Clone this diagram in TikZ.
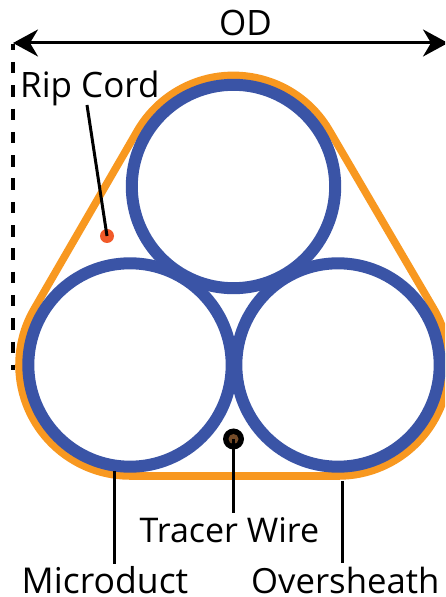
\documentclass[tikz,border=0pt]{standalone}
\usepackage{fontspec}
\setmainfont{Open Sans}
\usetikzlibrary{arrows.meta}
\definecolor{ductblue}{RGB}{58,84,166}
\definecolor{sheathorange}{RGB}{248,152,32}
\definecolor{ripred}{RGB}{241,90,41}
\definecolor{wirebrown}{RGB}{117,76,41}
\tikzset{
  duct/.style={circle,draw=ductblue,line width=12pt,minimum size=203.4pt,inner sep=0pt},
  sheath/.style={draw=sheathorange,line width=7.6pt,line join=round},
  leader/.style={draw=black,line width=3pt},
  lbl/.style={inner sep=0pt,text=black,font=\fontsize{#1}{#1}\selectfont},
  dim/.style={draw=black,line width=3pt,{Stealth[length=25pt,width=27pt,inset=8pt]}-{Stealth[length=25pt,width=27pt,inset=8pt]}},
  guide/.style={draw=black,line width=3.3pt,dash pattern=on 11.5pt off 11.8pt,dash phase=5.3pt}
}
\begin{document}
\begin{tikzpicture}[x=1pt,y=1pt]
\clip (0,0) rectangle (445,597);
\fill[white] (0,0) rectangle (445,597);
% oversheath
\path[sheath] (130,121) -- (338,121)
  arc[start angle=-90,end angle=30.3,radius=111]
  -- (329.3,466.6)
  arc[start angle=30.3,end angle=149.9,radius=111]
  -- (34,287.7)
  arc[start angle=149.9,end angle=270,radius=111] -- cycle;
% microducts
\node[duct] (top) at (233.5,410.5) {};
\node[duct] (left) at (130,232) {};
\node[duct] (right) at (338,232) {};
% small parts
\node[circle,fill=ripred,minimum size=14pt,inner sep=0pt] (rip) at (107,361) {};
\node[circle,fill=black,minimum size=21pt,inner sep=0pt] (wire) at (233.5,158) {};
\node[circle,fill=wirebrown,minimum size=10pt,inner sep=0pt] (core) at (233.5,158) {};
% labels
\node[lbl=35,anchor=base west] (odl) at (219,561) {OD};
\node[lbl=35,anchor=base west] (ripl) at (20,499) {Rip Cord};
\node[lbl=34,anchor=base west] (tracerl) at (139.5,54) {Tracer Wire};
\node[lbl=35.6,anchor=base west] (microl) at (21.5,4) {Microduct};
\node[lbl=34.7,anchor=base west] (overl) at (251,3) {Oversheath};
% dimension
\coordinate (dl) at (13,554);
\coordinate (dr) at (448,554);
\coordinate (gt) at (13,553);
\coordinate (gb) at (13,226.5);
\path[dim] (dl) -- (dr);
\path[guide] (gt) -- (gb);
% leaders
\coordinate (ripstart) at (87,492);
\coordinate (microtop) at (114,126);
\coordinate (microbot) at (114,33);
\coordinate (overtop) at (342,116);
\coordinate (overbot) at (342,34);
\coordinate (tracerbot) at (233.5,84);
\path[leader] (ripstart) -- (rip.center);
\path[leader] (microtop) -- (microbot);
\path[leader] (overtop) -- (overbot);
\path[leader] (core.center) -- (tracerbot);
\end{tikzpicture}
\end{document}
